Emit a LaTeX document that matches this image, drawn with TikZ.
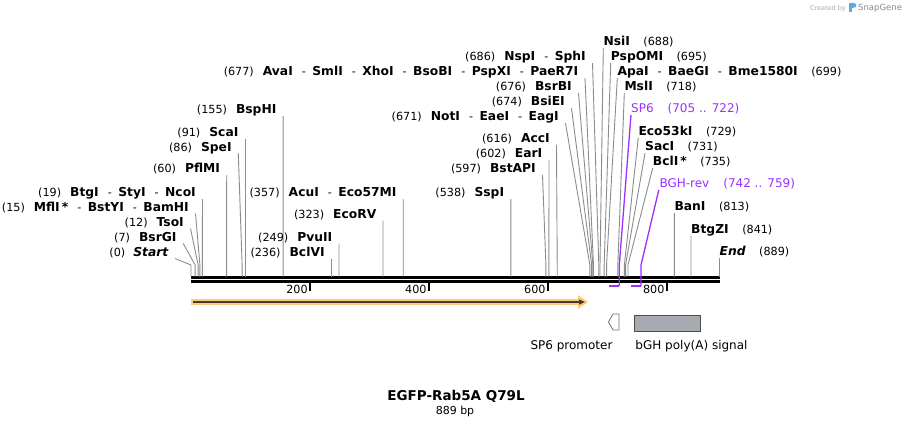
\documentclass[tikz,border=0pt]{standalone}
\usepackage{fontspec}
\setmainfont{DejaVu Sans}
\usetikzlibrary{calc,arrows.meta}
\definecolor{sitegray}{RGB}{140,140,140}
\definecolor{primpurple}{RGB}{155,48,255}
\definecolor{orfglow}{RGB}{255,204,120}
\definecolor{orfdark}{RGB}{70,60,50}
\definecolor{boxgray}{RGB}{166,170,177}
\definecolor{wmgray}{RGB}{170,170,170}
\definecolor{wmblue}{RGB}{90,170,230}
\newcommand\enz[1]{{\fontsize{12.3}{14}\selectfont\bfseries #1}}
\newcommand\pnum[1]{{\fontsize{11.2}{13}\selectfont #1}}
\newcommand\esep{{\fontsize{11.2}{13}\selectfont\hspace{9pt}-\hspace{6.5pt}}}
\newcommand\Lsite[5]{%
  \node[lab,anchor=base east] (#1) at (#2,#3) {#5};
  \coordinate (#1b) at (#4,276.5);
  \draw[site] ($(#1.base east)+(6.5,2.5)$) -- (#4,265) -- (#1b);}
\newcommand\Rsite[5]{%
  \node[lab,anchor=base west] (#1) at (#2,#3) {#5};
  \coordinate (#1b) at (#4,276.5);
  \draw[site] ($(#1.base west)+(0,2.5)$) -- (#4,265) -- (#1b);}
\tikzset{
  lab/.style={inner sep=0pt, text=black},
  site/.style={draw=sitegray, line width=0.9pt},
  prim/.style={draw=primpurple, line width=1.3pt},
  primbar/.style={draw=primpurple, line width=2pt},
  plab/.style={inner sep=0pt, text=primpurple, font=\fontsize{12}{14}\selectfont},
  ticklab/.style={inner sep=0pt, font=\fontsize{11.2}{13}\selectfont},
  featlab/.style={inner sep=0pt, font=\fontsize{12}{14}\selectfont},
  tickmark/.style={draw=black, line width=1.8pt},
}
\begin{document}
\begin{tikzpicture}[x=1pt,y=-1pt]
\useasboundingbox[fill=white] (0,0) rectangle (911,426);

% watermark
\node[inner sep=0pt, anchor=base east, text=wmgray, font=\fontsize{6.5}{8}\selectfont] (wm1) at (846,10) {Created by};
\fill[wmblue] (849,2.5) rectangle (852,12);
\fill[wmblue] (852,2.5) -- (856,4) -- (856,7) -- (852,8) -- cycle;
\node[inner sep=0pt, anchor=base west, text=wmgray!80!black, font=\fontsize{8.5}{10}\selectfont] (wm2) at (858,10.5) {SnapGene};

% backbone
\coordinate (bbL) at (191,277.5);
\coordinate (bbR) at (719.5,277.5);
\draw[line width=2.6pt] (bbL) -- (bbR);
\draw[line width=2.4pt] ($(bbL)+(0,4)$) -- ($(bbR)+(0,4)$);

% ticks
\foreach \x/\t in {309.9/200,428.8/400,547.7/600,666.6/800}{
  \draw[tickmark] (\x,282.5) -- (\x,291);
  \node[ticklab,anchor=base east] (tk\t) at (\x-2,293.5) {\t};
}

% left labels
\Lsite{l0}{168.5}{256}{191.0}{\pnum{(0)}\hspace{8pt}\enz{\itshape Start}}
\Lsite{l7}{176.7}{241}{195.16}{\pnum{(7)}\hspace{9pt}\enz{BsrGI}}
\Lsite{l12}{184}{226}{198.13}{\pnum{(12)}\hspace{9pt}\enz{TsoI}}
\Lsite{l15}{189}{211}{199.92}{\pnum{(15)}\hspace{9pt}\enz{MflI\,*}\esep\enz{BstYI}\esep\enz{BamHI}}
\Lsite{l19}{196}{196.5}{202.30}{\pnum{(19)}\hspace{9pt}\enz{BtgI}\esep\enz{StyI}\esep\enz{NcoI}}
\Lsite{l60}{220.2}{172.7}{226.67}{\pnum{(60)}\hspace{9pt}\enz{PflMI}}
\Lsite{l86}{231.8}{151}{242.13}{\pnum{(86)}\hspace{9pt}\enz{SpeI}}
\Lsite{l91}{238.6}{136}{245.10}{\pnum{(91)}\hspace{9pt}\enz{ScaI}}
\Lsite{l155}{276.6}{113.5}{283.15}{\pnum{(155)}\hspace{9pt}\enz{BspHI}}
\Lsite{l236}{324.8}{256}{331.30}{\pnum{(236)}\hspace{9pt}\enz{BclVI}}
\Lsite{l249}{332.5}{241}{339.03}{\pnum{(249)}\hspace{9pt}\enz{PvuII}}
\Lsite{l323}{376.5}{218}{383.02}{\pnum{(323)}\hspace{9pt}\enz{EcoRV}}
\Lsite{l357}{396.7}{196.7}{403.23}{\pnum{(357)}\hspace{9pt}\enz{AcuI}\esep\enz{Eco57MI}}
\Lsite{l538}{504.3}{196.7}{510.84}{\pnum{(538)}\hspace{9pt}\enz{SspI}}
\Lsite{l597}{536}{172.5}{545.91}{\pnum{(597)}\hspace{9pt}\enz{BstAPI}}
\Lsite{l602}{542.5}{157.5}{548.88}{\pnum{(602)}\hspace{9pt}\enz{EarI}}
\Lsite{l616}{550}{142.3}{557.21}{\pnum{(616)}\hspace{9pt}\enz{AccI}}
\Lsite{l671}{559}{120.7}{589.90}{\pnum{(671)}\hspace{9pt}\enz{NotI}\esep\enz{EaeI}\esep\enz{EagI}}
\Lsite{l674}{565}{105.7}{591.69}{\pnum{(674)}\hspace{9pt}\enz{BsiEI}}
\Lsite{l676}{572}{90.7}{592.88}{\pnum{(676)}\hspace{9pt}\enz{BsrBI}}
\Lsite{l677}{578.5}{75.7}{593.47}{\pnum{(677)}\hspace{9pt}\enz{AvaI}\esep\enz{SmlI}\esep\enz{XhoI}\esep\enz{BsoBI}\esep\enz{PspXI}\esep\enz{PaeR7I}}
\Lsite{l686}{586}{60.7}{598.82}{\pnum{(686)}\hspace{9pt}\enz{NspI}\esep\enz{SphI}}

% right labels
\Rsite{r688}{603.3}{45.7}{600.01}{\enz{NsiI}\hspace{13.5pt}\pnum{(688)}}
\Rsite{r695}{610.7}{60.5}{604.17}{\enz{PspOMI}\hspace{13.5pt}\pnum{(695)}}
\Rsite{r699}{617.3}{75.7}{606.55}{\enz{ApaI}\esep\enz{BaeGI}\esep\enz{Bme1580I}\hspace{13.5pt}\pnum{(699)}}
\Rsite{r718}{624.3}{90.7}{617.84}{\enz{MslI}\hspace{13.5pt}\pnum{(718)}}
\Rsite{r729}{638.3}{135}{624.38}{\enz{Eco53kI}\hspace{13.5pt}\pnum{(729)}}
\Rsite{r731}{645}{150.7}{625.57}{\enz{SacI}\hspace{13.5pt}\pnum{(731)}}
\Rsite{r735}{652.7}{165.7}{627.95}{\enz{BclI\,*}\hspace{13.5pt}\pnum{(735)}}
\Rsite{r813}{674.3}{210.7}{674.32}{\enz{BanI}\hspace{13.5pt}\pnum{(813)}}
\Rsite{r841}{691}{233}{690.97}{\enz{BtgZI}\hspace{13.5pt}\pnum{(841)}}
\Rsite{r889}{719.5}{255.7}{719.50}{\enz{\itshape End}\hspace{13.5pt}\pnum{(889)}}

% primers
\node[plab,anchor=base west] (sp6) at (631,112.3) {SP6\hspace{14pt}(705 .. 722)};
\coordinate (sp6b) at (619.3,286);
\coordinate (sp6e) at (609.3,286);
\draw[prim] ($(sp6.base west)+(0,2.5)$) -- (619.3,265) -- (sp6b);
\draw[primbar] (sp6b) -- (sp6e);
\node[plab,anchor=base west] (bgh) at (659.3,187.3) {BGH-rev\hspace{14pt}(742 .. 759)};
\coordinate (bghb) at (641,286);
\coordinate (bghe) at (631,286);
\draw[prim] ($(bgh.base west)+(-0.5,2.5)$) -- (641,265) -- (bghb);
\draw[primbar] (bghb) -- (bghe);

% ORF arrow
\coordinate (orfS) at (191,302);
\coordinate (orfE) at (580,302);
\draw[orfglow, line width=6pt] (orfS) -- (orfE);
\fill[orfglow] (578,295) -- (588,302) -- (578,309) -- cycle;
\draw[orfdark, line width=1.4pt, -{Triangle[length=6pt,width=5pt]}] ($(orfS)+(2,0)$) -- (585,302);

% features
\draw[sitegray!80!black, fill=white, line width=0.8pt] (619,314) -- (613,314) -- (608.5,322) -- (613,330) -- (619,330) -- cycle;
\node[featlab, anchor=base] (sp6lab) at (571.5,349) {SP6 promoter};
\node[draw=black!70, fill=boxgray, line width=0.8pt, minimum width=66pt, minimum height=16pt, inner sep=0pt] (bghbox) at (667,323) {};
\node[featlab, anchor=base] (bghlab) at (691.5,349) {bGH poly(A) signal};

% title
\node[inner sep=0pt, anchor=base, font=\fontsize{13.5}{16}\selectfont\bfseries] (title) at (456,400) {EGFP-Rab5A Q79L};
\node[inner sep=0pt, anchor=base, font=\fontsize{11}{13}\selectfont] (bp) at (455,414) {889 bp};
\end{tikzpicture}
\end{document}
